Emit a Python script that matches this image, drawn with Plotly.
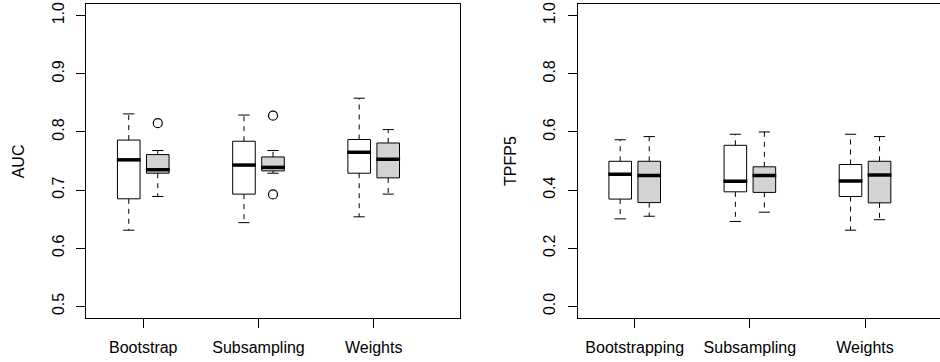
import plotly.graph_objects as go

# ---------------- data ----------------
auc_groups = ["Bootstrap", "Subsampling", "Weights"]
tpfp_groups = ["Bootstrapping", "Subsampling", "Weights"]

# AUC panel: [lower whisker, Q1, median, Q3, upper whisker]
auc_white = [
    [0.631, 0.685, 0.752, 0.786, 0.831],
    [0.644, 0.693, 0.743, 0.784, 0.829],
    [0.654, 0.729, 0.765, 0.787, 0.858],
]
auc_gray = [
    [0.689, 0.729, 0.735, 0.761, 0.768],
    [0.729, 0.733, 0.739, 0.757, 0.768],
    [0.693, 0.721, 0.753, 0.781, 0.804],
]
auc_gray_outliers = [[0.815], [0.828, 0.6925], []]
auc_white_outliers = [[], [], []]

# TPFP5 panel
tpfp_white = [
    [0.301, 0.369, 0.454, 0.499, 0.573],
    [0.292, 0.394, 0.430, 0.554, 0.592],
    [0.262, 0.378, 0.431, 0.488, 0.592],
]
tpfp_gray = [
    [0.310, 0.357, 0.450, 0.499, 0.584],
    [0.324, 0.392, 0.450, 0.480, 0.600],
    [0.298, 0.356, 0.452, 0.499, 0.584],
]

auc_ticks = [0.5, 0.6, 0.7, 0.8, 0.9, 1.0]
tpfp_ticks = [0.0, 0.2, 0.4, 0.6, 0.8, 1.0]

# ---------------- style ----------------
W, H = 940, 362
FONT = "Liberation Sans, Arial, sans-serif"
FS = 16
OFF = 0.126      # offset of each box from group centre
HW = 0.098       # box half width
WHITE = "#FFFFFF"
GRAY = "#D3D3D3"
INK = "#000000"

fig = go.Figure()


def add_boxes(stats, fill, outliers, xaxis, yaxis, shift):
    for i, s in enumerate(stats):
        lo, q1, med, q3, hi = s
        c = i + 1 + shift
        # box body
        fig.add_trace(go.Scatter(
            x=[c - HW, c + HW, c + HW, c - HW, c - HW],
            y=[q1, q1, q3, q3, q1],
            mode="lines", fill="toself", fillcolor=fill,
            line=dict(color=INK, width=1), xaxis=xaxis, yaxis=yaxis,
            hoverinfo="skip", showlegend=False))
        # whiskers (dashed)
        fig.add_trace(go.Scatter(
            x=[c, c, None, c, c], y=[q3, hi, None, q1, lo],
            mode="lines", line=dict(color=INK, width=1, dash="5px,5px"),
            xaxis=xaxis, yaxis=yaxis, hoverinfo="skip", showlegend=False))
        # staples
        fig.add_trace(go.Scatter(
            x=[c - HW / 2, c + HW / 2, None, c - HW / 2, c + HW / 2],
            y=[hi, hi, None, lo, lo],
            mode="lines", line=dict(color=INK, width=1),
            xaxis=xaxis, yaxis=yaxis, hoverinfo="skip", showlegend=False))
        # median
        fig.add_trace(go.Scatter(
            x=[c - HW - 0.005, c + HW + 0.005], y=[med, med],
            mode="lines", line=dict(color=INK, width=3.5),
            xaxis=xaxis, yaxis=yaxis, hoverinfo="skip", showlegend=False))
        if outliers and outliers[i]:
            fig.add_trace(go.Scatter(
                x=[c] * len(outliers[i]), y=outliers[i], mode="markers",
                marker=dict(symbol="circle-open", size=9, color=INK,
                            line=dict(width=1.2, color=INK)),
                xaxis=xaxis, yaxis=yaxis, hoverinfo="skip", showlegend=False))


add_boxes(auc_white, WHITE, auc_white_outliers, "x", "y", -OFF)
add_boxes(auc_gray, GRAY, auc_gray_outliers, "x", "y", OFF)
add_boxes(tpfp_white, WHITE, None, "x2", "y2", -OFF)
add_boxes(tpfp_gray, GRAY, None, "x2", "y2", OFF)

tick_font = dict(family=FONT, size=FS, color=INK)

xcommon = dict(showgrid=False, zeroline=False, showline=True, linecolor=INK,
               linewidth=1, ticks="outside", ticklen=9, tickcolor=INK,
               tickwidth=1, tickfont=tick_font, tickvals=[1, 2, 3],
               ticklabelstandoff=6)
ycommon = dict(showgrid=False, zeroline=False, showline=True, linecolor=INK,
               linewidth=1, ticks="outside", ticklen=9, tickcolor=INK,
               tickwidth=1, tickfont=tick_font, tickangle=-90,
               ticklabelstandoff=6)

fig.update_layout(
    width=W, height=H,
    margin=dict(l=0, r=0, t=4, b=44),
    paper_bgcolor="white", plot_bgcolor="white",
    showlegend=False,
    xaxis=dict(domain=[86 / W, 460 / W], range=[0.503, 3.749],
               ticktext=auc_groups, mirror=True, anchor="y", **xcommon),
    yaxis=dict(domain=[0, 1], range=[0.48, 1.02], tickvals=auc_ticks,
               ticktext=[f"{v:.1f}" for v in auc_ticks], mirror=True,
               anchor="x", **ycommon),
    xaxis2=dict(domain=[577.7 / W, 1.0], range=[0.505, 3.651],
                ticktext=tpfp_groups, mirror=True, anchor="y2", **xcommon),
    yaxis2=dict(domain=[0, 1], range=[-0.04, 1.04], tickvals=tpfp_ticks,
                ticktext=[f"{v:.1f}" for v in tpfp_ticks], mirror=False,
                anchor="x2", **ycommon),
    annotations=[
        dict(text="AUC", x=18.3 / W, y=0.5, xref="paper", yref="paper",
             textangle=-90, showarrow=False, xanchor="center",
             yanchor="middle", font=tick_font),
        dict(text="TPFP5", x=510 / W, y=0.5, xref="paper", yref="paper",
             textangle=-90, showarrow=False, xanchor="center",
             yanchor="middle", font=tick_font),
    ],
)

fig.write_html("out.html")
